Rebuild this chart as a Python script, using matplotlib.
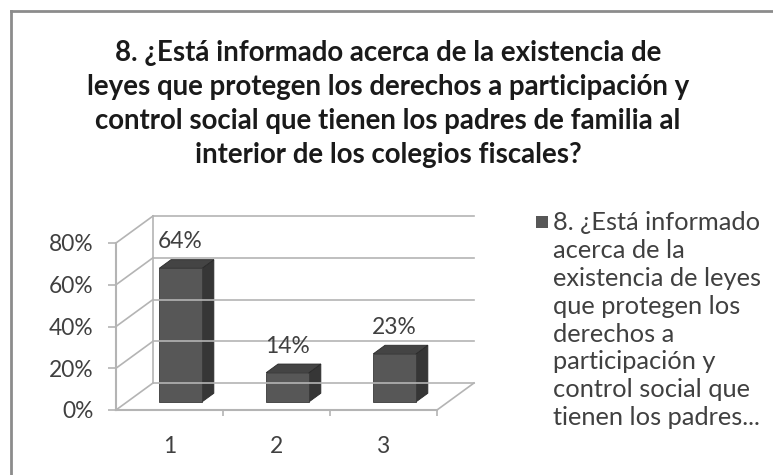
import matplotlib
matplotlib.use("Agg")
import matplotlib.pyplot as plt
from matplotlib.patches import Polygon, Rectangle
import numpy as np

# chart data
categories = ["1", "2", "3"]
values = [0.64, 0.14, 0.23]
value_labels = ["64%", "14%", "23%"]
ytick_values = [0.0, 0.2, 0.4, 0.6, 0.8]
ytick_labels = ["0%", "20%", "40%", "60%", "80%"]

title = ("8. ¿Está informado acerca de la existencia de\n"
         "leyes que protegen los derechos a participación y\n"
         "control social que tienen los padres de familia al\n"
         "interior de los colegios fiscales?")
legend_label = ("8. ¿Está informado\nacerca de la\nexistencia de leyes\n"
                "que protegen los\nderechos a\nparticipación y\n"
                "control social que\ntienen los padres...")

FONT = "Lato"
W, H = 773, 475
fig = plt.figure(figsize=(W / 100, H / 100), dpi=100)
fig.patch.set_facecolor("white")
renderer = fig.canvas.get_renderer()


def fit_text(t, width_px, pitch_px=None):
    # scale the font so the widest line is width_px wide, then set line pitch
    w = t.get_window_extent(renderer).width
    t.set_fontsize(t.get_fontsize() * width_px / w)
    if pitch_px is not None:
        n = t.get_text().count("\n")
        t.set_linespacing(2.0)
        h2 = t.get_window_extent(renderer).height
        t.set_linespacing(3.0)
        h3 = t.get_window_extent(renderer).height
        a = (h3 - h2) / n
        # pitch = linespacing * a + descent
        _, _, d = renderer.get_text_width_height_descent("lp", t.get_fontproperties(), ismath=False)
        t.set_linespacing((pitch_px - d) / a)


# chart frame (only top and left edges are inside the crop)
fig.add_artist(plt.Line2D([11 / W, 1], [1 - 11 / H, 1 - 11 / H], color="#8c8c8c", lw=2))
fig.add_artist(plt.Line2D([11 / W, 11 / W], [0, 1 - 11 / H], color="#8c8c8c", lw=2))

# front plane of the 3d box
ax = fig.add_axes([116 / W, 65 / H, 321 / W, 167 / H])
ax.set_xlim(0.5, 3.5)
ax.set_ylim(0, 0.8)
for s in ax.spines.values():
    s.set_visible(False)
ax.set_facecolor("none")

# depth vector (pixels) -> data units
px_x = 321 / 3
px_y = 167 / 0.8
DX, DY = 37 / px_x, 27 / px_y

grid_c = "#b4b4b4"
x0, x1 = 0.5, 3.5
for v in ytick_values:
    ax.plot([x0 + DX, x1 + DX], [v + DY, v + DY], color=grid_c, lw=1.2, clip_on=False)
    ax.plot([x0, x0 + DX], [v, v + DY], color=grid_c, lw=1.2, clip_on=False)
ax.plot([x0 + DX, x0 + DX], [DY, 0.8 + DY], color=grid_c, lw=1.2, clip_on=False)
ax.plot([x0, x0], [0, 0.8], color=grid_c, lw=1.5, clip_on=False)
ax.plot([x0, x1], [0, 0], color=grid_c, lw=1.5, clip_on=False)
ax.plot([x1, x1 + DX], [0, DY], color=grid_c, lw=1.2, clip_on=False)

# axis labels: size them so "80%" is ~45 px wide like the original
probe = fig.text(0, 0, "80%", fontsize=14, family=FONT)
fit_text(probe, 45)
lab_size = probe.get_fontsize()
probe.remove()

ax.set_yticks(ytick_values)
ax.set_yticklabels(ytick_labels)
ax.tick_params(axis="y", length=6, width=1.2, color=grid_c, pad=10,
               labelsize=lab_size, labelcolor="#404040")
xpos = np.arange(1, len(categories) + 1)
ax.set_xticks(xpos)
ax.set_xticklabels(categories)
ax.set_xticks([1.5, 2.5, 3.5], minor=True)
ax.tick_params(axis="x", which="major", length=0, pad=19, labelsize=lab_size, labelcolor="#404040")
ax.tick_params(axis="x", which="minor", length=4, width=1.2, color=grid_c)
for lab in ax.get_xticklabels() + ax.get_yticklabels():
    lab.set_family(FONT)

# bars sit at mid depth
bw = 0.4
d0, d1 = 0.3, 0.62
front_c, top_c, side_c = "#575757", "#444444", "#363636"
for x, v in zip(xpos, values):
    fx0 = x - bw / 2 + DX * d0
    fx1 = x + bw / 2 + DX * d0
    fy0 = DY * d0
    fy1 = v + DY * d0
    ox, oy = DX * (d1 - d0), DY * (d1 - d0)
    ax.add_patch(Polygon([(fx1, fy0), (fx1 + ox, fy0 + oy), (fx1 + ox, fy1 + oy), (fx1, fy1)],
                         closed=True, fc=side_c, ec="#2a2a2a", lw=0.6, clip_on=False))
    ax.add_patch(Polygon([(fx0, fy1), (fx1, fy1), (fx1 + ox, fy1 + oy), (fx0 + ox, fy1 + oy)],
                         closed=True, fc=top_c, ec="#2a2a2a", lw=0.6, clip_on=False))
    ax.add_patch(Rectangle((fx0, fy0), fx1 - fx0, fy1 - fy0,
                           fc=front_c, ec="#3a3a3a", lw=0.6, clip_on=False))

for x, v, lab in zip(xpos, values, value_labels):
    ax.annotate(lab, (x + DX * d0, v + DY * d0), xytext=(0, 19), textcoords="offset points",
                ha="center", va="center", fontsize=lab_size, color="#404040", family=FONT)

# title (multi-line "baseline" anchors the last line, baseline ~163 px from top)
t = fig.text(388 / W, 1 - 163 / H, title, ha="center", va="baseline", fontsize=16,
             fontweight="bold", family=FONT, color="#1a1a1a")
fit_text(t, 606, 34)

# legend (last line baseline ~425 px from top)
fig.add_artist(Rectangle((536 / W, 1 - 228 / H), 12 / W, 12 / H, transform=fig.transFigure,
                         fc=front_c, ec="none"))
lg = fig.text(553 / W, 1 - 425 / H, legend_label, ha="left", va="baseline", fontsize=14,
              family=FONT, color="#404040")
fit_text(lg, 209, 27.8)

fig.savefig("out.png", dpi=100)
